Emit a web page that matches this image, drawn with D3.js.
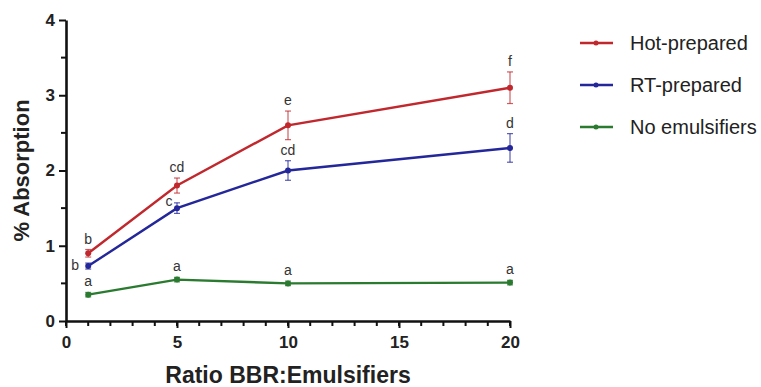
<!DOCTYPE html>
<html>
<head>
<meta charset="utf-8">
<script src="https://cdn.jsdelivr.net/npm/d3@7"></script>
<style>
  body { margin: 0; background: #fff; }
  text { font-family: "Liberation Sans", Arial, sans-serif; }
</style>
</head>
<body>
<svg id="chart" width="761" height="387"></svg>
<script>
// data
const ratios = [1, 5, 10, 20];
const seriesNames = ["Hot-prepared", "RT-prepared", "No emulsifiers"];
const hotMean = [0.9, 1.8, 2.6, 3.1];
const hotErr = [0.05, 0.1, 0.19, 0.21];
const hotLetters = ["b", "cd", "e", "f"];
const rtMean = [0.73, 1.5, 2.0, 2.3];
const rtErr = [0.04, 0.07, 0.13, 0.19];
const rtLetters = ["b", "c", "cd", "d"];
const noneMean = [0.35, 0.55, 0.5, 0.51];
const noneErr = [0.03, 0.03, 0.03, 0.03];
const noneLetters = ["a", "a", "a", "a"];
const xMinor = d3.range(0, 21, 1);
const yMinor = [0.5, 1.5, 2.5, 3.5];
const colors = ["#c0282d", "#24279a", "#2a7a30"];

const svg = d3.select("#chart");

const x = d3.scaleLinear().domain([0, 20]).range([66, 510]);
const y = d3.scaleLinear().domain([0, 4]).range([321, 20]);

// minor ticks
svg.append("g").selectAll("line")
  .data(xMinor)
  .join("line")
  .attr("x1", (d) => x(d)).attr("x2", (d) => x(d))
  .attr("y1", y(0)).attr("y2", y(0) + 5)
  .attr("stroke", "#111").attr("stroke-width", 2);
svg.append("g").selectAll("line")
  .data(yMinor)
  .join("line")
  .attr("x1", x(0) - 5).attr("x2", x(0))
  .attr("y1", (d) => y(d)).attr("y2", (d) => y(d))
  .attr("stroke", "#111").attr("stroke-width", 2);

// major axes
const gx = svg.append("g").attr("transform", `translate(0,${y(0)})`);
gx.call(d3.axisBottom(x).tickValues(d3.range(0, 21, 5)).tickSize(7).tickSizeOuter(0).tickPadding(8));
const gy = svg.append("g").attr("transform", `translate(${x(0)},0)`);
gy.call(d3.axisLeft(y).tickValues([0, 1, 2, 3, 4]).tickFormat(d3.format("d")).tickSize(7).tickSizeOuter(0).tickPadding(4));

svg.selectAll(".domain").attr("stroke", "#111").attr("stroke-width", 2.6);
svg.selectAll(".tick line").attr("stroke", "#111").attr("stroke-width", 2);
svg.selectAll(".tick text")
  .attr("font-size", 17)
  .attr("font-weight", "bold")
  .attr("fill", "#222")
  .style("font-family", "Liberation Sans, Arial, sans-serif");

// axis titles
svg.append("text")
  .attr("transform", `translate(29,${y(2)}) rotate(-90)`)
  .attr("text-anchor", "middle")
  .attr("font-size", 22)
  .attr("font-weight", "bold")
  .attr("fill", "#222")
  .text("% Absorption");

svg.append("text")
  .attr("x", x(10))
  .attr("y", 383)
  .attr("text-anchor", "middle")
  .attr("font-size", 23)
  .attr("font-weight", "bold")
  .attr("fill", "#222")
  .text("Ratio BBR:Emulsifiers");

const series = [
  { name: seriesNames[0], mean: hotMean, err: hotErr, letters: hotLetters, color: colors[0] },
  { name: seriesNames[1], mean: rtMean, err: rtErr, letters: rtLetters, color: colors[1] },
  { name: seriesNames[2], mean: noneMean, err: noneErr, letters: noneLetters, color: colors[2] },
];

const line = d3.line().x((d) => x(d.r)).y((d) => y(d.m));

// RT letters at 1 and 5 sit to the left of the point
const letterPos = {
  "RT-prepared": [[-13, 4], [-8, -2]],
};

series.forEach((s) => {
  const pts = ratios.map((r, i) => ({ r: r, m: s.mean[i], e: s.err[i], l: s.letters[i] }));
  const g = svg.append("g");

  g.append("path")
    .datum(pts)
    .attr("d", line)
    .attr("fill", "none")
    .attr("stroke", s.color)
    .attr("stroke-width", 2.4);

  // error bars
  pts.forEach((d) => {
    g.append("line")
      .attr("x1", x(d.r)).attr("x2", x(d.r))
      .attr("y1", y(d.m + d.e)).attr("y2", y(d.m - d.e))
      .attr("stroke", s.color).attr("stroke-width", 1.2).attr("opacity", 0.75);
    [d.m + d.e, d.m - d.e].forEach((v) => {
      g.append("line")
        .attr("x1", x(d.r) - 3).attr("x2", x(d.r) + 3)
        .attr("y1", y(v)).attr("y2", y(v))
        .attr("stroke", s.color).attr("stroke-width", 1.2).attr("opacity", 0.75);
    });
  });

  g.selectAll("circle")
    .data(pts)
    .join("circle")
    .attr("cx", (d) => x(d.r))
    .attr("cy", (d) => y(d.m))
    .attr("r", 3)
    .attr("fill", s.color);

  // significance letters
  pts.forEach((d, i) => {
    const off = letterPos[s.name];
    let lx = x(d.r), ly = y(d.m + d.e) - 6;
    if (off && off[i]) {
      lx = x(d.r) + off[i][0];
      ly = y(d.m) + off[i][1];
    }
    g.append("text")
      .attr("x", lx)
      .attr("y", ly)
      .attr("text-anchor", "middle")
      .attr("font-size", 14)
      .attr("fill", "#333")
      .text(d.l);
  });
});

// legend
const legend = svg.append("g");
series.forEach((s, i) => {
  const ly = 43 + i * 42;
  legend.append("line")
    .attr("x1", 580).attr("x2", 613)
    .attr("y1", ly).attr("y2", ly)
    .attr("stroke", s.color).attr("stroke-width", 2.4);
  legend.append("circle")
    .attr("cx", 596).attr("cy", ly).attr("r", 2.5).attr("fill", s.color);
  legend.append("text")
    .attr("x", 630)
    .attr("y", ly + 7)
    .attr("font-size", 20)
    .attr("fill", "#222")
    .text(s.name);
});
</script>
</body>
</html>
